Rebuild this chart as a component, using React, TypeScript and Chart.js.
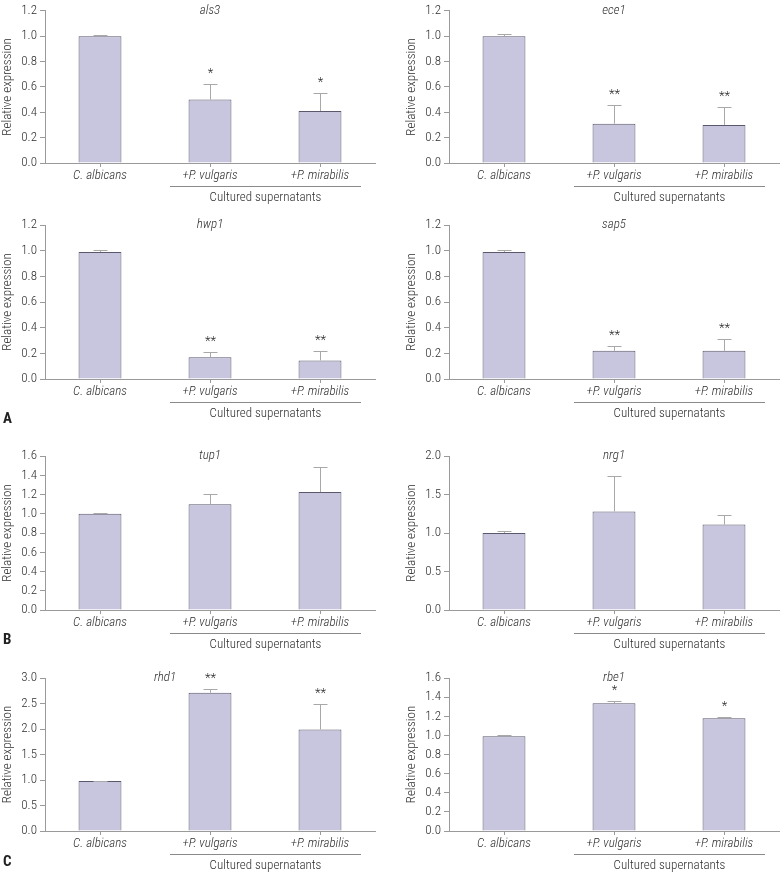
import React, { useEffect, useRef } from 'react';
import { Chart, registerables } from 'chart.js';

Chart.register(...registerables);

const FONT = "'Roboto Condensed', 'Liberation Sans Narrow', 'Noto Sans Condensed', 'DejaVu Sans Condensed', sans-serif";
const W = '300';
const FS = 13;
const TEXT = '#2e2e2e';
const AXIS = '#9a9a9a';
const BAR_FILL = '#c8c6de';
const BAR_BORDER = '#5a586c';
const ERR = '#a8a8a8';

// ---- data ----
const categories = ['C. albicans', '+P. vulgaris', '+P. mirabilis'];
const groupLabel = 'Cultured supernatants';
const yTitle = 'Relative expression';

const als3Means = [1.0, 0.5, 0.41];
const als3Errs = [0.01, 0.12, 0.14];
const als3Stars = ['', '*', '*'];

const ece1Means = [1.0, 0.31, 0.3];
const ece1Errs = [0.015, 0.15, 0.14];
const ece1Stars = ['', '**', '**'];

const hwp1Means = [0.99, 0.17, 0.145];
const hwp1Errs = [0.012, 0.037, 0.07];
const hwp1Stars = ['', '**', '**'];

const sap5Means = [0.99, 0.22, 0.22];
const sap5Errs = [0.013, 0.035, 0.09];
const sap5Stars = ['', '**', '**'];

const tup1Means = [1.0, 1.1, 1.225];
const tup1Errs = [0.008, 0.1, 0.265];
const tup1Stars = ['', '', ''];

const nrg1Means = [1.0, 1.28, 1.11];
const nrg1Errs = [0.02, 0.455, 0.13];
const nrg1Stars = ['', '', ''];

const rhd1Means = [0.98, 2.71, 1.99];
const rhd1Errs = [0.01, 0.075, 0.505];
const rhd1Stars = ['', '**', '**'];

const rbe1Means = [0.99, 1.335, 1.178];
const rbe1Errs = [0.015, 0.02, 0.01];
const rbe1Stars = ['', '*', '*'];

type Panel = {
  title: string;
  means: number[];
  errs: number[];
  stars: string[];
  yMax: number;
  yStep: number;
  left: number;
  top: number;
  width: number;
  padTop: number;
  span: number;
  padRight: number;
  titleDx: number;
};

const LEFT_COL = { left: 0, width: 390, padRight: 15 };
const RIGHT_COL = { left: 404, width: 376, padRight: 1 };

const panels: Panel[] = [
  { title: 'als3', means: als3Means, errs: als3Errs, stars: als3Stars, yMax: 1.2, yStep: 0.2, ...LEFT_COL, top: 0, padTop: 10, span: 153, titleDx: 0 },
  { title: 'ece1', means: ece1Means, errs: ece1Errs, stars: ece1Stars, yMax: 1.2, yStep: 0.2, ...RIGHT_COL, top: 0, padTop: 10, span: 153, titleDx: 0 },
  { title: 'hwp1', means: hwp1Means, errs: hwp1Errs, stars: hwp1Stars, yMax: 1.2, yStep: 0.2, ...LEFT_COL, top: 210, padTop: 15, span: 154, titleDx: 0 },
  { title: 'sap5', means: sap5Means, errs: sap5Errs, stars: sap5Stars, yMax: 1.2, yStep: 0.2, ...RIGHT_COL, top: 210, padTop: 15, span: 154, titleDx: 0 },
  { title: 'tup1', means: tup1Means, errs: tup1Errs, stars: tup1Stars, yMax: 1.6, yStep: 0.2, ...LEFT_COL, top: 420, padTop: 36, span: 154, titleDx: 0 },
  { title: 'nrg1', means: nrg1Means, errs: nrg1Errs, stars: nrg1Stars, yMax: 2.0, yStep: 0.5, ...RIGHT_COL, top: 420, padTop: 36, span: 154, titleDx: 0 },
  { title: 'rhd1', means: rhd1Means, errs: rhd1Errs, stars: rhd1Stars, yMax: 3.0, yStep: 0.5, ...LEFT_COL, top: 635, padTop: 43, span: 153, titleDx: -45 },
  { title: 'rbe1', means: rbe1Means, errs: rbe1Errs, stars: rbe1Stars, yMax: 1.6, yStep: 0.2, ...RIGHT_COL, top: 635, padTop: 43, span: 153, titleDx: 0 },
];

const BOTTOM = 50;

function PanelChart({ p }: { p: Panel }) {
  const ref = useRef<HTMLCanvasElement | null>(null);
  const height = p.padTop + p.span + BOTTOM;

  useEffect(() => {
    if (!ref.current) return;
    const annot = {
      id: 'annot',
      afterDatasetsDraw(chart: any) {
        const ctx = chart.ctx as CanvasRenderingContext2D;
        const meta = chart.getDatasetMeta(0);
        const ys = chart.scales.y;
        const ca = chart.chartArea;
        ctx.save();
        ctx.lineWidth = 1;
        meta.data.forEach((bar: any, i: number) => {
          const x = Math.round(bar.x) + 0.5;
          const yTop = Math.round(ys.getPixelForValue(p.means[i] + p.errs[i])) + 0.5;
          ctx.strokeStyle = ERR;
          ctx.beginPath();
          ctx.moveTo(x, bar.y);
          ctx.lineTo(x, yTop);
          ctx.moveTo(x - 7, yTop);
          ctx.lineTo(x + 7, yTop);
          ctx.stroke();
          if (p.stars[i]) {
            ctx.fillStyle = TEXT;
            ctx.font = `${W} ${FS}px ${FONT}`;
            ctx.textAlign = 'center';
            ctx.textBaseline = 'alphabetic';
            ctx.fillText(p.stars[i], x, yTop - 8);
          }
        });
        // title
        ctx.fillStyle = TEXT;
        ctx.font = `italic ${W} ${FS}px ${FONT}`;
        ctx.textAlign = 'center';
        ctx.textBaseline = 'middle';
        ctx.fillText(p.title, meta.data[1].x + p.titleDx, ca.top);
        // bracket
        const bx1 = meta.data[1].x - 40;
        const bx2 = meta.data[2].x + 41;
        const by = Math.round(ca.bottom + 23) + 0.5;
        ctx.strokeStyle = '#8a8a8a';
        ctx.beginPath();
        ctx.moveTo(bx1, by);
        ctx.lineTo(bx2, by);
        ctx.stroke();
        ctx.font = `${W} ${FS}px ${FONT}`;
        ctx.fillText(groupLabel, (bx1 + bx2) / 2, ca.bottom + 35);
        ctx.restore();
      },
    };

    const chart = new Chart(ref.current, {
      type: 'bar',
      data: {
        labels: categories,
        datasets: [
          {
            data: p.means,
            backgroundColor: BAR_FILL,
            borderColor: BAR_BORDER,
            borderWidth: 1,
            barPercentage: 0.39,
            categoryPercentage: 1,
          },
        ],
      },
      options: {
        responsive: false,
        animation: false,
        devicePixelRatio: 1,
        layout: { padding: { top: p.padTop, right: p.padRight, bottom: 0, left: 0 } },
        plugins: { legend: { display: false }, tooltip: { enabled: false }, title: { display: false } },
        scales: {
          x: {
            grid: { display: true, drawOnChartArea: false, drawTicks: true, tickLength: 4, color: AXIS, offset: false },
            border: { display: true, color: AXIS },
            ticks: { color: TEXT, font: { family: FONT, size: FS, style: 'italic', weight: W }, padding: 1, maxRotation: 0, autoSkip: false },
            afterFit: (s: any) => { s.height = BOTTOM; },
          },
          y: {
            min: 0,
            max: p.yMax,
            grid: { display: true, drawOnChartArea: false, drawTicks: true, tickLength: 5, color: AXIS },
            border: { display: true, color: AXIS },
            ticks: {
              stepSize: p.yStep,
              color: TEXT,
              font: { family: FONT, size: FS, weight: W },
              padding: 3,
              callback: (v: any) => Number(v).toFixed(1),
            },
            title: { display: true, text: yTitle, color: TEXT, font: { family: FONT, size: FS, weight: W }, padding: { top: 0, bottom: 0 } },
            afterFit: (s: any) => { s.width = 45; },
          },
        },
      },
      plugins: [annot],
    } as any);
    return () => chart.destroy();
  }, []);

  return (
    <canvas
      ref={ref}
      width={p.width}
      height={height}
      style={{ position: 'absolute', left: p.left, top: p.top, width: p.width, height }}
    />
  );
}

const letterStyle = (top: number): React.CSSProperties => ({
  position: 'absolute',
  left: 3,
  top,
  fontFamily: FONT,
  fontWeight: 'bold',
  fontSize: 15,
  lineHeight: '15px',
  color: '#222',
});

export default function App() {
  return (
    <div style={{ position: 'absolute', left: 0, top: 0, width: 780, height: 877, background: '#fff', overflow: 'hidden' }}>
      {panels.map((p) => (
        <PanelChart key={p.title} p={p} />
      ))}
      <div style={letterStyle(411)}>A</div>
      <div style={letterStyle(632)}>B</div>
      <div style={letterStyle(854)}>C</div>
    </div>
  );
}
